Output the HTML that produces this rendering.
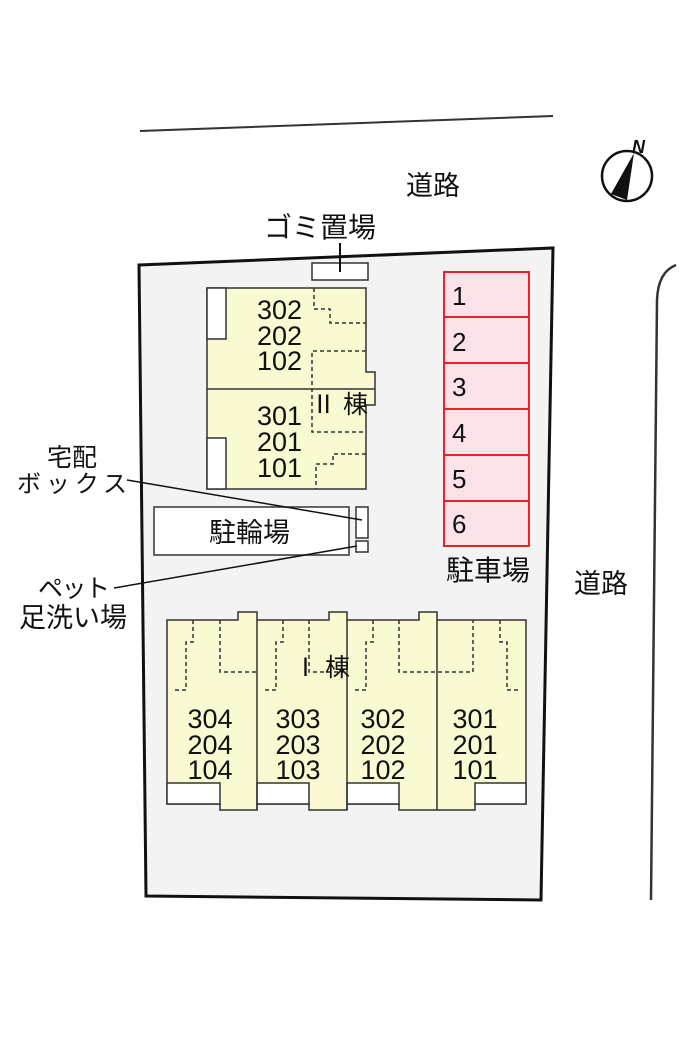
<!DOCTYPE html>
<html><head><meta charset="utf-8"><style>
html,body{margin:0;padding:0;background:#fff;}
svg{display:block;}
text{font-family:"Liberation Sans","Noto Sans CJK JP",sans-serif;fill:#111;}
</style></head><body>
<svg width="700" height="1050" viewBox="0 0 700 1050" xmlns="http://www.w3.org/2000/svg">
<line x1="140" y1="131" x2="553" y2="116" stroke="#333" stroke-width="2"/>
<text x="406" y="195" font-size="27">道路</text>
<circle cx="627" cy="176" r="25" fill="#fff" stroke="#111" stroke-width="2.5"/>
<polygon points="634,153 611,194 627,200" fill="#111"/>
<text x="632" y="153" font-size="18" font-style="italic" font-weight="bold">N</text>
<path d="M651,900 L657,300 Q658,272 676,265" fill="none" stroke="#333" stroke-width="2.5"/>
<text x="574" y="593" font-size="27">道路</text>
<polygon points="139,265 553,248 541,900 146,896" fill="#f3f3f3" stroke="#111" stroke-width="3"/>
<text x="264" y="237" font-size="28">ゴミ置場</text>
<rect x="312" y="263" width="56" height="17" fill="#fff" stroke="#333" stroke-width="1.5"/>
<line x1="340" y1="243" x2="340" y2="272" stroke="#111" stroke-width="2"/>
<path d="M207,288 H366 V372 H375 V405 H366 V489 H207 Z" fill="#fafad2" stroke="#333" stroke-width="1.5"/>
<rect x="207" y="288" width="19" height="51" fill="#fff" stroke="#333" stroke-width="1.5"/>
<rect x="207" y="438" width="19" height="51" fill="#fff" stroke="#333" stroke-width="1.5"/>
<line x1="207" y1="389" x2="375" y2="389" stroke="#333" stroke-width="1.5"/>
<g stroke="#333" stroke-width="1.5" stroke-dasharray="4,3" fill="none">
<path d="M314,288 V309 H330 V323 H366"/>
<path d="M366,351 H312 V432 H366"/>
<path d="M366,454 H333 V464 H316 V489"/>
</g>
<g font-size="27" text-anchor="end">
<text x="302" y="319">302</text><text x="302" y="345">202</text><text x="302" y="370">102</text>
<text x="302" y="425">301</text><text x="302" y="451">201</text><text x="302" y="477">101</text>
</g>
<text x="311" y="413" font-size="25">Ⅱ 棟</text>
<g fill="#fbe1e8" stroke="#f0202a" stroke-width="2">
<rect x="444" y="272" width="85" height="45"/><rect x="444" y="317" width="85" height="46"/>
<rect x="444" y="363" width="85" height="46"/><rect x="444" y="409" width="85" height="46"/>
<rect x="444" y="455" width="85" height="46"/><rect x="444" y="501" width="85" height="45"/>
</g>
<g font-size="26"><text x="452" y="305">1</text><text x="452" y="351">2</text><text x="452" y="396">3</text><text x="452" y="442">4</text><text x="452" y="488">5</text><text x="452" y="533">6</text></g>
<text x="446" y="580" font-size="28">駐車場</text>
<rect x="154" y="507" width="195" height="48" fill="#fff" stroke="#333" stroke-width="1.5"/>
<text x="209" y="542" font-size="27">駐輪場</text>
<rect x="356" y="507" width="12" height="31" fill="#fff" stroke="#333" stroke-width="1.5"/>
<rect x="356" y="541" width="12" height="11" fill="#fff" stroke="#333" stroke-width="1.5"/>
<text x="72" y="466" font-size="25" text-anchor="middle">宅配</text>
<text x="72" y="492" font-size="24" text-anchor="middle" textLength="110">ボックス</text>
<line x1="127" y1="480" x2="362" y2="520" stroke="#111" stroke-width="1.5"/>
<text x="74" y="597" font-size="25" text-anchor="middle" textLength="72">ペット</text>
<text x="73" y="627" font-size="27" text-anchor="middle">足洗い場</text>
<line x1="114" y1="588" x2="357" y2="546" stroke="#111" stroke-width="1.5"/>
<path d="M167,620 H238 V612 H257 V620 H329 V612 H347 V620 H419 V612 H437 V620 H526 V804 H475 V810 H399 V804 H347 V810 H309 V804 H257 V810 H220 V804 H167 Z" fill="#fafad2" stroke="#333" stroke-width="1.5"/>
<g fill="#fff" stroke="#333" stroke-width="1.5">
<rect x="167" y="783" width="53" height="21"/><rect x="257" y="783" width="52" height="21"/>
<rect x="347" y="783" width="52" height="21"/><rect x="475" y="783" width="51" height="21"/>
</g>
<g stroke="#333" stroke-width="1.5">
<line x1="257" y1="620" x2="257" y2="810"/><line x1="347" y1="620" x2="347" y2="810"/><line x1="437" y1="620" x2="437" y2="810"/>
</g>
<g stroke="#333" stroke-width="1.5" stroke-dasharray="4,3" fill="none">
<path d="M193,620 V642 H186 V690 H172"/><path d="M220,620 V672 H257"/>
<path d="M283,620 V642 H276 V690 H262"/><path d="M309,620 V672 H347"/>
<path d="M373,620 V642 H366 V690 H352"/><path d="M399,620 V672 H473 V620"/>
<path d="M500,620 V642 H507 V690 H521"/>
</g>
<text x="293" y="676" font-size="25">Ⅰ 棟</text>
<g font-size="27" text-anchor="middle">
<text x="210" y="728">304</text><text x="210" y="754">204</text><text x="210" y="779">104</text>
<text x="298" y="728">303</text><text x="298" y="754">203</text><text x="298" y="779">103</text>
<text x="383" y="728">302</text><text x="383" y="754">202</text><text x="383" y="779">102</text>
<text x="475" y="728">301</text><text x="475" y="754">201</text><text x="475" y="779">101</text>
</g>
</svg>
</body></html>
